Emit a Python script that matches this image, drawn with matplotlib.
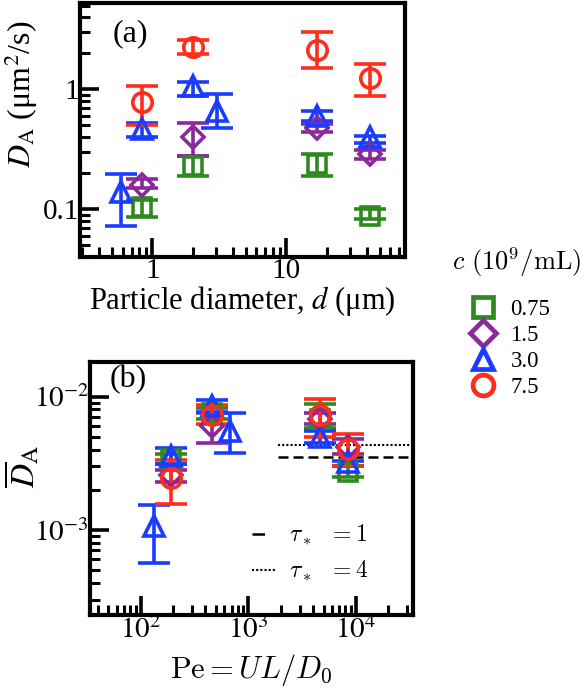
import matplotlib
matplotlib.use("Agg")
import matplotlib.pyplot as plt
from matplotlib.lines import Line2D
import numpy as np

plt.rcParams['font.family'] = ['Liberation Serif', 'DejaVu Serif']
plt.rcParams['mathtext.fontset'] = 'stix'

# ---------------- data ----------------
conc_labels = ['0.75', '1.5', '3.0', '7.5']
colors = ['#2e8a1e', '#8a2a9a', '#1a3cff', '#ff2d1a']
markers = ['s', 'D', '^', 'o']

# Panel (a): particle diameter d (um), D_A (um^2/s), lower/upper error bounds
d_green = [0.84, 2.0, 16.9, 42.0]
DA_green = [0.104, 0.23, 0.237, 0.088]
DA_green_lo = [0.086, 0.19, 0.19, 0.083]
DA_green_hi = [0.12, 0.276, 0.29, 0.10]

d_purple = [0.84, 2.0, 16.9, 42.0]
DA_purple = [0.16, 0.40, 0.48, 0.287]
DA_purple_lo = [0.15, 0.276, 0.44, 0.26]
DA_purple_hi = [0.18, 0.52, 0.51, 0.31]

d_blue = [0.58, 0.84, 2.0, 3.06, 16.9, 42.0]
DA_blue = [0.138, 0.47, 1.06, 0.66, 0.60, 0.40]
DA_blue_lo = [0.072, 0.40, 0.89, 0.48, 0.54, 0.36]
DA_blue_hi = [0.196, 0.52, 1.15, 0.91, 0.66, 0.41]

d_red = [0.84, 2.0, 16.9, 42.0]
DA_red = [0.78, 2.25, 2.15, 1.25]
DA_red_lo = [0.50, 1.96, 1.52, 0.88]
DA_red_hi = [1.06, 2.6, 3.0, 1.62]

# Panel (b): Peclet number, normalised D_A
Pe_green = [190, 457, 4650, 8500]
Db_green = [0.0034, 0.0075, 0.0068, 0.0027]
Db_green_lo = [0.0031, 0.0068, 0.0058, 0.0025]
Db_green_hi = [0.0037, 0.0082, 0.0088, 0.0030]

Pe_purple = [190, 457, 4650, 8500]
Db_purple = [0.0026, 0.0060, 0.0068, 0.0042]
Db_purple_lo = [0.0023, 0.0045, 0.0062, 0.0037]
Db_purple_hi = [0.0028, 0.0075, 0.0075, 0.0048]

Pe_blue = [132, 190, 457, 680, 4650, 8500]
Db_blue = [0.00106, 0.0036, 0.0085, 0.0055, 0.0050, 0.0032]
Db_blue_lo = [0.00056, 0.0031, 0.0076, 0.0038, 0.0045, 0.0030]
Db_blue_hi = [0.00154, 0.0041, 0.0095, 0.0075, 0.0055, 0.0033]

Pe_red = [190, 457, 4650, 8500]
Db_red = [0.00245, 0.0073, 0.0073, 0.00404]
Db_red_lo = [0.00156, 0.0062, 0.0050, 0.0030]
Db_red_hi = [0.00336, 0.0086, 0.0096, 0.0052]

tau1_level = 0.0035
tau4_level = 0.0043
tau_Pe_start = 1900

# ---------------- figure ----------------
fig = plt.figure(figsize=(5.86, 6.94), dpi=100)
axA = fig.add_axes([0.137, 0.630, 0.554, 0.366])
axB = fig.add_axes([0.154, 0.114, 0.551, 0.365])

def style_axes(ax):
    for sp in ax.spines.values():
        sp.set_linewidth(3.0)
    ax.tick_params(which='major', direction='in', length=14, width=2.6,
                   labelsize=21, top=False, right=False, pad=1)
    ax.tick_params(which='minor', direction='in', length=7, width=2.2,
                   top=False, right=False)

def plot_group(ax, x, y, lo, hi, color, marker, ms=12):
    y = np.array(y); lo = np.array(lo); hi = np.array(hi)
    ax.errorbar(x, y, yerr=[y - lo, hi - y], fmt=marker, color=color,
                mfc='none', mec=color, mew=2.6, ms=ms,
                elinewidth=2.6, capsize=11.5, capthick=2.8, zorder=3)

groupsA = [
    (d_green, DA_green, DA_green_lo, DA_green_hi),
    (d_purple, DA_purple, DA_purple_lo, DA_purple_hi),
    (d_blue, DA_blue, DA_blue_lo, DA_blue_hi),
    (d_red, DA_red, DA_red_lo, DA_red_hi),
]
groupsB = [
    (Pe_green, Db_green, Db_green_lo, Db_green_hi),
    (Pe_purple, Db_purple, Db_purple_lo, Db_purple_hi),
    (Pe_blue, Db_blue, Db_blue_lo, Db_blue_hi),
    (Pe_red, Db_red, Db_red_lo, Db_red_hi),
]
ms_list = [13, 11, 14, 14]

for (x, y, lo, hi), c, m, ms in zip(groupsA, colors, markers, ms_list):
    plot_group(axA, x, y, lo, hi, c, m, ms)
for (x, y, lo, hi), c, m, ms in zip(groupsB, colors, markers, ms_list):
    plot_group(axB, x, y, lo, hi, c, m, ms)

# panel (a) axes
axA.set_xscale('log'); axA.set_yscale('log')
axA.set_xlim(0.29, 77)
axA.set_ylim(0.04, 5.3)
style_axes(axA)
axA.set_xticks([1, 10]); axA.set_xticklabels(['1', '10'])
axA.set_yticks([0.1, 1]); axA.set_yticklabels(['0.1', '1'])
axA.set_xlabel(r'Particle diameter, $d$ (μm)', fontsize=22, labelpad=0)
axA.set_ylabel(r'$D_\mathrm{A}$ (μm$^2$/s)', fontsize=23)
axA.yaxis.set_label_coords(-0.125, 0.64)
axA.text(0.155, 0.88, '(a)', transform=axA.transAxes, fontsize=23,
         ha='center', va='center')

# panel (b) axes
axB.set_xscale('log'); axB.set_yscale('log')
axB.set_xlim(34, 34000)
axB.set_ylim(2.3e-4, 0.0183)
style_axes(axB)
axB.set_xticks([1e2, 1e3, 1e4])
axB.set_xticklabels([r'$10^{2}$', r'$10^{3}$', r'$10^{4}$'])
axB.set_yticks([1e-3, 1e-2])
axB.set_yticklabels([r'$10^{-3}$', r'$10^{-2}$'])
axB.set_xlabel(r'$\mathrm{Pe} = UL/D_0$', fontsize=22, labelpad=6,
               math_fontfamily='cm')
axB.set_ylabel(r'$\overline{D}_\mathrm{A}$', fontsize=24)
axB.yaxis.set_label_coords(-0.15, 0.585)
axB.text(0.118, 0.93, '(b)', transform=axB.transAxes, fontsize=23,
         ha='center', va='center')

xr = [tau_Pe_start, 34000]
axB.plot(xr, [tau1_level] * 2, color='black', lw=1.8, ls=(0, (4, 2)), zorder=2)
axB.plot(xr, [tau4_level] * 2, color='black', lw=1.5, ls=(0, (1, 1)), zorder=2)

tau_handles = [Line2D([0], [0], color='black', lw=1.8, ls=(0, (5, 20))),
               Line2D([0], [0], color='black', lw=1.5, ls=(0, (1, 1)))]
legB = axB.legend(tau_handles, [r'$\tau_*\ \ = 1$', r'$\tau_*\ \ = 4$'],
                  loc='lower right', bbox_to_anchor=(0.897, 0.078),
                  frameon=False, fontsize=17, handlelength=1.0,
                  handletextpad=0.57, labelspacing=0.5, borderpad=0)
for t in legB.get_texts():
    t.set_math_fontfamily('cm')

# concentration legend
fig.text(0.882, 1 - 262 / 694, r'$c\ (10^9/\mathrm{mL})$', fontsize=19,
         ha='center', va='center', math_fontfamily='cm')
c_handles = [Line2D([0], [0], ls='none', marker=m, mfc='none', mec=c,
                    mew=3.4, ms=s) for m, c, s in zip(markers, colors, [15, 13, 14, 15])]
fig.legend(c_handles, conc_labels, loc='upper left',
           bbox_to_anchor=(460 / 586, 1 - 288 / 694), frameon=False,
           fontsize=16.5, handlelength=1.0, handletextpad=0.7,
           labelspacing=0.21, borderpad=0)

fig.savefig('out.png', dpi=100)
